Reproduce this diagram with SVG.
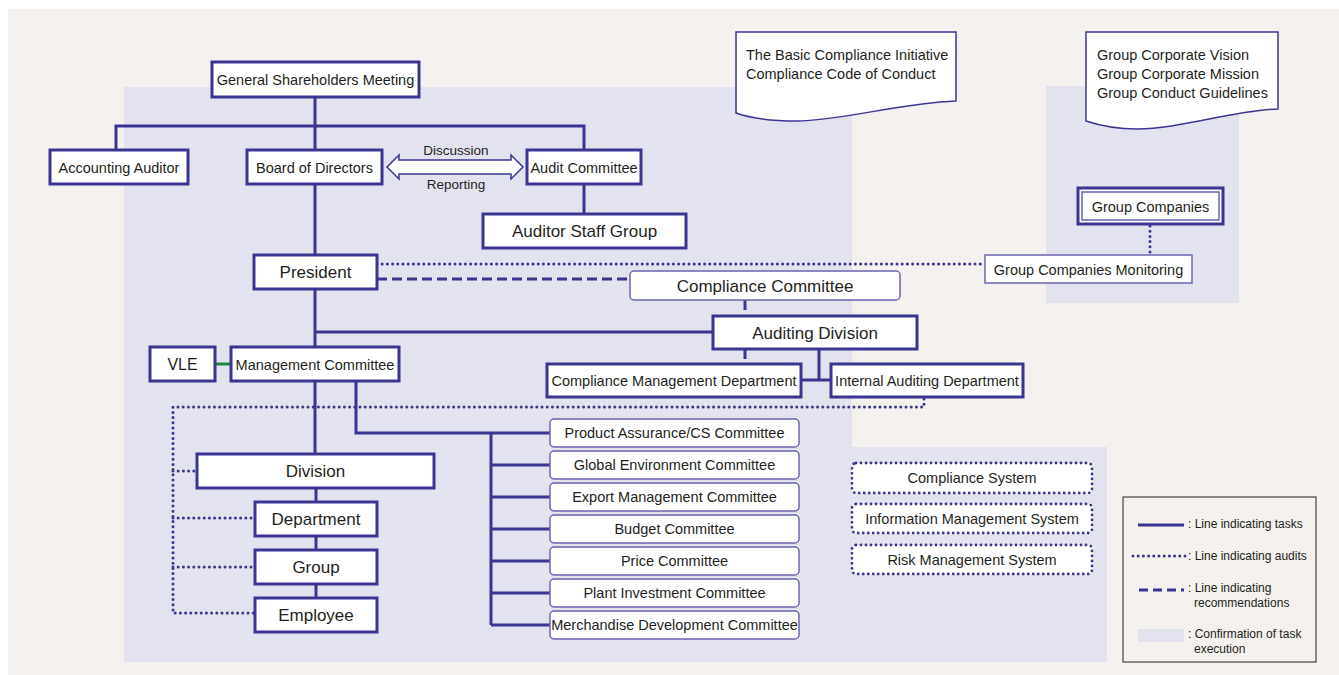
<svg xmlns="http://www.w3.org/2000/svg" width="1339" height="675" viewBox="0 0 1339 675">
<style>
text{font-family:"Liberation Sans",Arial,sans-serif;fill:#231f20;text-anchor:middle}
.n{font-size:14.5px}
.w{font-size:17px}
.s{font-size:13.5px}
.l{font-size:12px;text-anchor:start}
.box{fill:#fff;stroke:#3a3591;stroke-width:3}
.thin{fill:#fff;stroke:#6a66b0;stroke-width:1.5}
.dbox{fill:#fff;stroke:#3a3591;stroke-width:2.8;stroke-dasharray:0 5;stroke-linecap:round}
.ln{fill:none;stroke:#3a3591;stroke-width:3}
.dot{fill:none;stroke:#3a3591;stroke-width:3;stroke-dasharray:0 5.2;stroke-linecap:round}
.dash{fill:none;stroke:#3a3591;stroke-width:3;stroke-dasharray:10 5}
.doc{fill:#fff;stroke:#3a3591;stroke-width:1.5}
</style>
<rect x="0" y="0" width="1339" height="675" fill="#fff"/>
<rect x="8" y="9" width="1331" height="666" fill="#f4f1ee"/>
<path d="M124,87 H852 V447 H1107 V662 H124 Z" fill="#e3e3f0"/>
<rect x="1046" y="86" width="193" height="217" fill="#e3e3f0"/>

<g id="connectors">
<path class="ln" d="M315,97 V150 M116,150 V126 H584 V150 M584,184 V214 M315,184 V255 M315,289 V347 M315,332 H713 M819,349 V380 M801,380 H831 M315,381 V454 M356,381 V433 H550 M491,433 V625 M491,465 H550 M491,497 H550 M491,529 H550 M491,561 H550 M491,593 H550 M491,625 H550 M316,488 V502 M316,536 V550 M316,584 V598"/>
<path d="M215,364 H231" stroke="#1a8a3a" stroke-width="3" fill="none"/>
<path class="dot" d="M377,264 H985 M1150,226 V255 M924,399 V407 H173 V613 H255 M173,471 H197 M173,518 H255 M173,567 H255"/>
<path class="dash" d="M377,279 H630 M745,300 V316 M745,349 V364"/>
<polygon points="387,167 399,155 399,160 511,160 511,155 523,167 511,179 511,174 399,174 399,179" fill="#fff" stroke="#3a3591" stroke-width="1.5"/>
<text class="s" x="456" y="155">Discussion</text>
<text class="s" x="456" y="189">Reporting</text>
</g>

<g id="doc-compliance">
<path class="doc" d="M736,32 H956 V101 C900,103 840,121 797,121 C770,121 750,118 736,113 Z"/>
<text class="n" x="746" y="60" style="text-anchor:start">The Basic Compliance Initiative</text>
<text class="n" x="746" y="79" style="text-anchor:start">Compliance Code of Conduct</text>
</g>
<g id="doc-group">
<path class="doc" d="M1086,32 H1278 V109 C1230,111 1180,129 1137,129 C1115,129 1098,125 1086,121 Z"/>
<text class="n" x="1097" y="60" style="text-anchor:start">Group Corporate Vision</text>
<text class="n" x="1097" y="79" style="text-anchor:start">Group Corporate Mission</text>
<text class="n" x="1097" y="98" style="text-anchor:start">Group Conduct Guidelines</text>
</g>

<g id="gsm"><rect class="box" x="212" y="62" width="207" height="35"/><text class="n" x="315.5" y="85">General Shareholders Meeting</text></g>
<g id="accounting-auditor"><rect class="box" x="50" y="150" width="138" height="34"/><text class="n" x="119" y="172.5">Accounting Auditor</text></g>
<g id="board"><rect class="box" x="247" y="150" width="135" height="34"/><text class="n" x="314.5" y="172.5">Board of Directors</text></g>
<g id="audit-committee"><rect class="box" x="527" y="150" width="114" height="34"/><text class="n" x="584" y="172.5">Audit Committee</text></g>
<g id="auditor-staff"><rect class="box" x="483" y="214" width="203" height="34"/><text class="w" x="584.5" y="237">Auditor Staff Group</text></g>
<g id="president"><rect class="box" x="254" y="255" width="123" height="34"/><text class="w" x="315.5" y="278">President</text></g>
<g id="compliance-committee"><rect class="thin" x="630" y="271" width="270" height="29" rx="4"/><text class="w" x="765" y="291.5">Compliance Committee</text></g>
<g id="auditing-division"><rect class="box" x="713" y="316" width="204" height="33"/><text class="w" x="815" y="338.5">Auditing Division</text></g>
<g id="cmd"><rect class="box" x="547" y="364" width="254" height="33"/><text class="n" x="674" y="386">Compliance Management Department</text></g>
<g id="iad"><rect class="box" x="831" y="364" width="192" height="33"/><text class="n" x="927" y="386">Internal Auditing Department</text></g>
<g id="vle"><rect class="box" x="150" y="347" width="65" height="34"/><text class="n" x="182.5" y="370" style="font-size:16px">VLE</text></g>
<g id="management-committee"><rect class="box" x="231" y="347" width="168" height="34"/><text class="n" x="315" y="369.5">Management Committee</text></g>
<g id="division"><rect class="box" x="197" y="454" width="237" height="34"/><text class="w" x="315.5" y="477">Division</text></g>
<g id="department"><rect class="box" x="255" y="502" width="122" height="34"/><text class="w" x="316" y="525">Department</text></g>
<g id="group"><rect class="box" x="255" y="550" width="122" height="34"/><text class="w" x="316" y="573">Group</text></g>
<g id="employee"><rect class="box" x="255" y="598" width="122" height="34"/><text class="w" x="316" y="621">Employee</text></g>

<g id="c1"><rect class="thin" x="550" y="419" width="249" height="28" rx="4"/><text class="n" x="674.5" y="438">Product Assurance/CS Committee</text></g>
<g id="c2"><rect class="thin" x="550" y="451" width="249" height="28" rx="4"/><text class="n" x="674.5" y="470">Global Environment Committee</text></g>
<g id="c3"><rect class="thin" x="550" y="483" width="249" height="28" rx="4"/><text class="n" x="674.5" y="502">Export Management Committee</text></g>
<g id="c4"><rect class="thin" x="550" y="515" width="249" height="28" rx="4"/><text class="n" x="674.5" y="534">Budget Committee</text></g>
<g id="c5"><rect class="thin" x="550" y="547" width="249" height="28" rx="4"/><text class="n" x="674.5" y="566">Price Committee</text></g>
<g id="c6"><rect class="thin" x="550" y="579" width="249" height="28" rx="4"/><text class="n" x="674.5" y="598">Plant Investment Committee</text></g>
<g id="c7"><rect class="thin" x="550" y="611" width="249" height="28" rx="4"/><text class="n" x="674.5" y="630">Merchandise Development Committee</text></g>

<g id="sys1"><rect class="dbox" x="852" y="463" width="240" height="30" rx="4"/><text class="n" x="972" y="483">Compliance System</text></g>
<g id="sys2"><rect class="dbox" x="852" y="504" width="240" height="29" rx="4"/><text class="n" x="972" y="524">Information Management System</text></g>
<g id="sys3"><rect class="dbox" x="852" y="545" width="240" height="29" rx="4"/><text class="n" x="972" y="565">Risk Management System</text></g>

<g id="group-companies"><rect x="1078" y="188" width="145" height="36" fill="#fff" stroke="#3a3591" stroke-width="3"/><rect x="1082" y="192" width="137" height="28" fill="none" stroke="#6a66b0" stroke-width="1.5"/><text class="n" x="1150.5" y="212">Group Companies</text></g>
<g id="gcm"><rect class="thin" x="985" y="255" width="207" height="28"/><text class="n" x="1088.5" y="275">Group Companies Monitoring</text></g>

<g id="legend">
<rect x="1123" y="497" width="193" height="165" fill="#f4f1ee" stroke="#231f20" stroke-width="1"/>
<path class="ln" d="M1138,525 H1184"/>
<path class="dot" d="M1133,556 H1186"/>
<path class="dash" d="M1139,590 H1184" style="stroke-dasharray:9 5"/>
<rect x="1138" y="629" width="46" height="13" fill="#e3e3f0"/>
<text class="l" x="1188" y="528">: Line indicating tasks</text>
<text class="l" x="1188" y="560">: Line indicating audits</text>
<text class="l" x="1188" y="592">: Line indicating</text>
<text class="l" x="1194" y="607">recommendations</text>
<text class="l" x="1188" y="638">: Confirmation of task</text>
<text class="l" x="1194" y="653">execution</text>
</g>
</svg>
